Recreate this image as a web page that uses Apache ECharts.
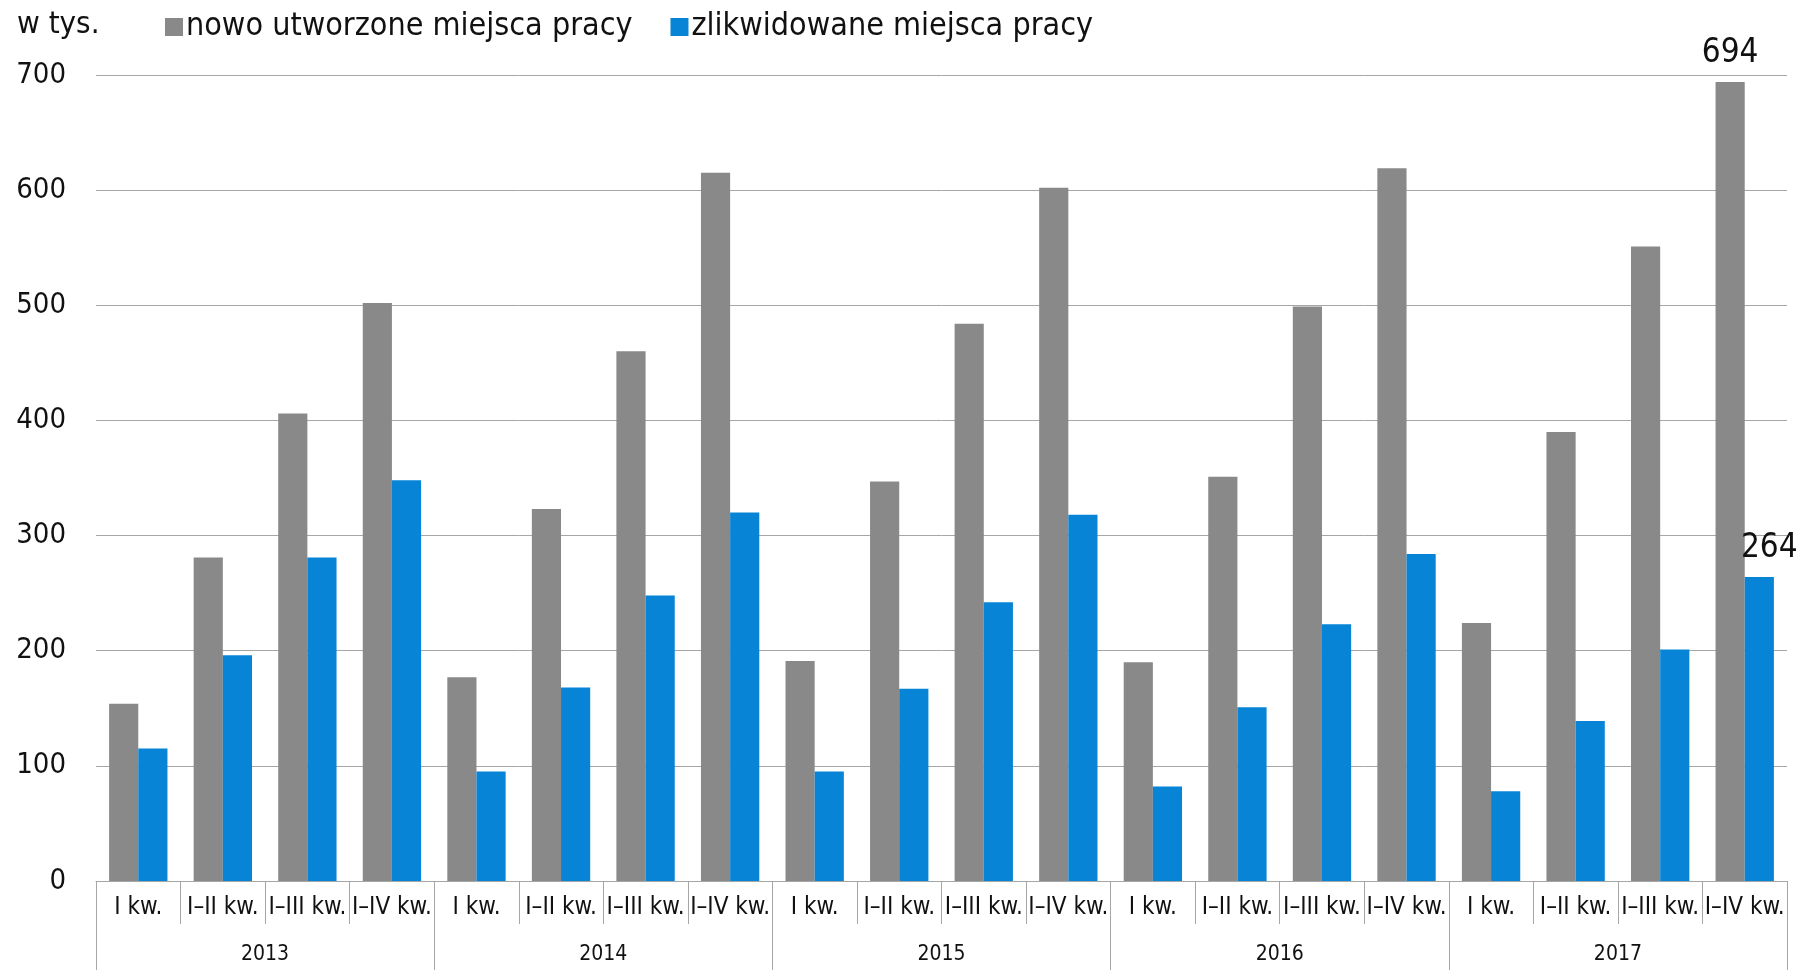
<!DOCTYPE html>
<html>
<head>
<meta charset="utf-8">
<script src="https://cdn.jsdelivr.net/npm/echarts@6/dist/echarts.min.js"></script>
<style>
  html, body { margin: 0; padding: 0; background: #fff; }
  #chart { width: 1810px; height: 970px; }
</style>
</head>
<body>
<div id="chart"></div>
<script>
const FONT = "'Liberation Sans Narrow', 'DejaVu Sans Condensed', 'Noto Sans', sans-serif"

const years = ['2013', '2014', '2015', '2016', '2017']
const quarters = ['I kw.', 'I–II kw.', 'I–III kw.', 'I–IV kw.']
const created = [154, 281, 406, 502, 177, 323, 460, 615, 191, 347, 484, 602, 190, 351, 499, 619, 224, 390, 551, 694]
const liquidated = [115, 196, 281, 348, 95, 168, 248, 320, 95, 167, 242, 318, 82, 151, 223, 284, 78, 139, 201, 264]

const categories = []
years.forEach(() => quarters.forEach(q => categories.push(q)))

// only the last bar in each series is labelled
function withLastLabel(arr, offset) {
  return arr.map((v, i) => i === arr.length - 1
    ? { value: v, label: { show: true, position: 'top', distance: 12, offset: offset, fontSize: 33, color: '#111', fontFamily: FONT } }
    : v)
}

let myChart = echarts.init(document.getElementById('chart'))

let option = {
  animation: false,
  textStyle: { fontFamily: FONT },
  title: {
    text: 'w tys.',
    left: 12,
    top: 4,
    textStyle: { fontSize: 31, fontWeight: 'normal', color: '#111', fontFamily: FONT }
  },
  legend: {
    left: 160,
    top: 6,
    itemWidth: 18,
    itemHeight: 18,
    itemGap: 38,
    icon: 'rect',
    textStyle: { fontSize: 32, color: '#111', fontFamily: FONT, padding: [0, 0, 0, -2] },
    data: ['nowo utworzone miejsca pracy', 'zlikwidowane miejsca pracy']
  },
  grid: { left: 96, right: 23, top: 75, bottom: 89 },
  xAxis: [
    {
      type: 'category',
      data: categories,
      axisLine: { lineStyle: { color: '#a6a6a6', width: 1 } },
      axisTick: { show: true, interval: 0, length: 43, lineStyle: { color: '#a6a6a6' } },
      axisLabel: { interval: 0, fontSize: 24, color: '#111', margin: 15, fontFamily: FONT }
    },
    {
      type: 'category',
      data: years,
      position: 'bottom',
      axisLine: { show: false },
      axisTick: { show: true, interval: 0, length: 89, lineStyle: { color: '#a6a6a6' } },
      axisLabel: { interval: 0, fontSize: 21, color: '#111', margin: 63, fontFamily: FONT },
      splitLine: { show: false }
    }
  ],
  yAxis: {
    type: 'value',
    min: 0,
    max: 700,
    interval: 100,
    axisLine: { show: false },
    axisTick: { show: false },
    axisLabel: { fontSize: 29, color: '#111', margin: 30, fontFamily: FONT },
    splitLine: { lineStyle: { color: '#a6a6a6', width: 1 } }
  },
  series: [
    {
      name: 'nowo utworzone miejsca pracy',
      type: 'bar',
      xAxisIndex: 0,
      barGap: '0%',
      barCategoryGap: '31%',
      itemStyle: { color: '#898989' },
      data: withLastLabel(created, [0, 0])
    },
    {
      name: 'zlikwidowane miejsca pracy',
      type: 'bar',
      xAxisIndex: 0,
      itemStyle: { color: '#0784d6' },
      data: withLastLabel(liquidated, [10, 0])
    }
  ]
}

myChart.setOption(option)
</script>
</body>
</html>
